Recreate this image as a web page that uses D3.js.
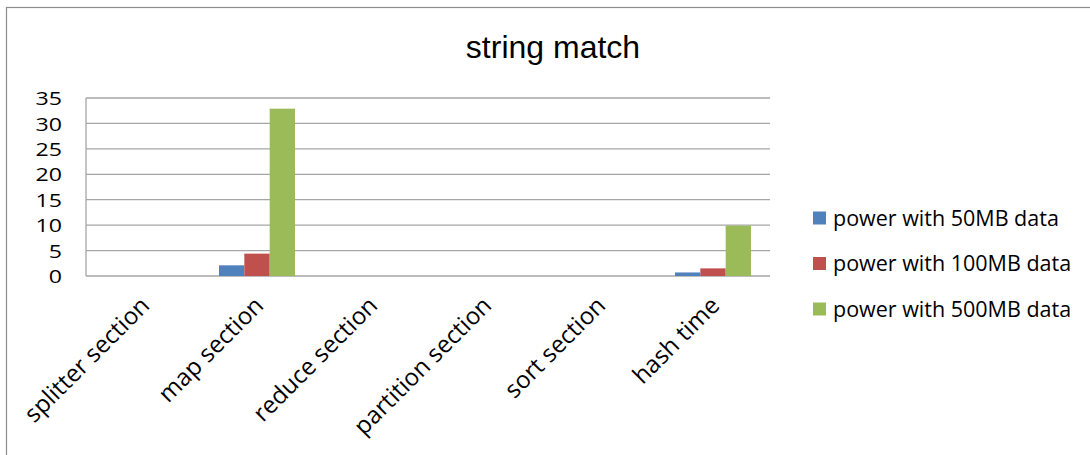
<!DOCTYPE html>
<html><head><meta charset="utf-8">
<script src="https://cdn.jsdelivr.net/npm/d3@7"></script>
<style>
html,body{margin:0;padding:0;background:#fff;}
svg{display:block;}
</style></head>
<body>
<svg id="chart" width="1090" height="455"></svg>
<script>
const title = "string match";
const categories = ["splitter section","map section","reduce section","partition section","sort section","hash time"];
const seriesNames = ["power with 50MB data","power with 100MB data","power with 500MB data"];
const power50MB  = [0, 2.1, 0, 0, 0, 0.7];
const power100MB = [0, 4.4, 0, 0, 0, 1.5];
const power500MB = [0, 32.9, 0, 0, 0, 9.9];
const yTicks = [0,5,10,15,20,25,30,35];
const colors = ["#4F81BD","#C0504D","#9BBB59"];

const seriesValues = [power50MB, power100MB, power500MB];
const svg = d3.select("#chart");
const font = "'Open Sans', sans-serif";

// outer border
svg.append("rect").attr("x",6.5).attr("y",7.5).attr("width",1100).attr("height",460)
  .attr("fill","#fff").attr("stroke","#8c8c8c").attr("stroke-width",1.2);

const plot = {left:86, right:770, top:98, bottom:276};
const x0 = d3.scaleBand().domain(categories).range([plot.left, plot.right]).paddingInner(0).paddingOuter(0);
const x1 = d3.scaleBand().domain(d3.range(seriesNames.length)).range([0, x0.bandwidth()]).paddingInner(0).paddingOuter(0.75);
const y = d3.scaleLinear().domain([0,35]).range([plot.bottom, plot.top]);

// gridlines
svg.append("g").selectAll("line").data(yTicks).join("line")
  .attr("x1",plot.left).attr("x2",plot.right)
  .attr("y1",d=>y(d)).attr("y2",d=>y(d))
  .attr("stroke","#a6a6a6").attr("stroke-width",1.3);
// y axis line
svg.append("line").attr("x1",plot.left).attr("x2",plot.left).attr("y1",plot.top).attr("y2",plot.bottom)
  .attr("stroke","#a6a6a6").attr("stroke-width",1.3);

// bars
const g = svg.append("g");
categories.forEach((c,i)=>{
  seriesValues.forEach((vals,s)=>{
    const v = vals[i];
    if (v<=0) return;
    g.append("rect").attr("x",x0(c)+x1(s)).attr("width",x1.bandwidth())
      .attr("y",y(v)).attr("height",y(0)-y(v)).attr("fill",colors[s]);
  });
});

// y tick labels
const yAxis = d3.axisLeft(y).tickValues(yTicks).tickSize(0).tickPadding(0);
const ya = svg.append("g").attr("transform",`translate(62,0)`).call(yAxis);
ya.select(".domain").remove();
ya.selectAll("text").attr("font-family",font).attr("font-size",18.5).attr("fill","#000")
  .attr("dy","0.36em").attr("transform","scale(1.25,1)");

// x labels
svg.append("g").selectAll("text").data(categories).join("text")
  .attr("transform",d=>`translate(${x0(d)+x0.bandwidth()/2+8},${307}) rotate(-45)`)
  .attr("text-anchor","end")
  .attr("font-family",font).attr("font-size",24).attr("fill","#000")
  .text(d=>d);

// title
svg.append("text").attr("x",553).attr("y",58).attr("text-anchor","middle")
  .attr("font-family","'Liberation Sans', Arial, sans-serif").attr("font-size",32).attr("fill","#000")
  .text(title);

// legend
const lg = svg.append("g");
seriesNames.forEach((n,i)=>{
  const cy = 218 + i*45.5;
  lg.append("rect").attr("x",813).attr("y",cy-6.5).attr("width",13).attr("height",13).attr("fill",colors[i]);
  lg.append("text").attr("x",833).attr("y",cy).attr("dy","0.35em")
    .attr("font-family",font).attr("font-size",21.5).attr("fill","#000").text(n);
});
</script>
</body></html>
